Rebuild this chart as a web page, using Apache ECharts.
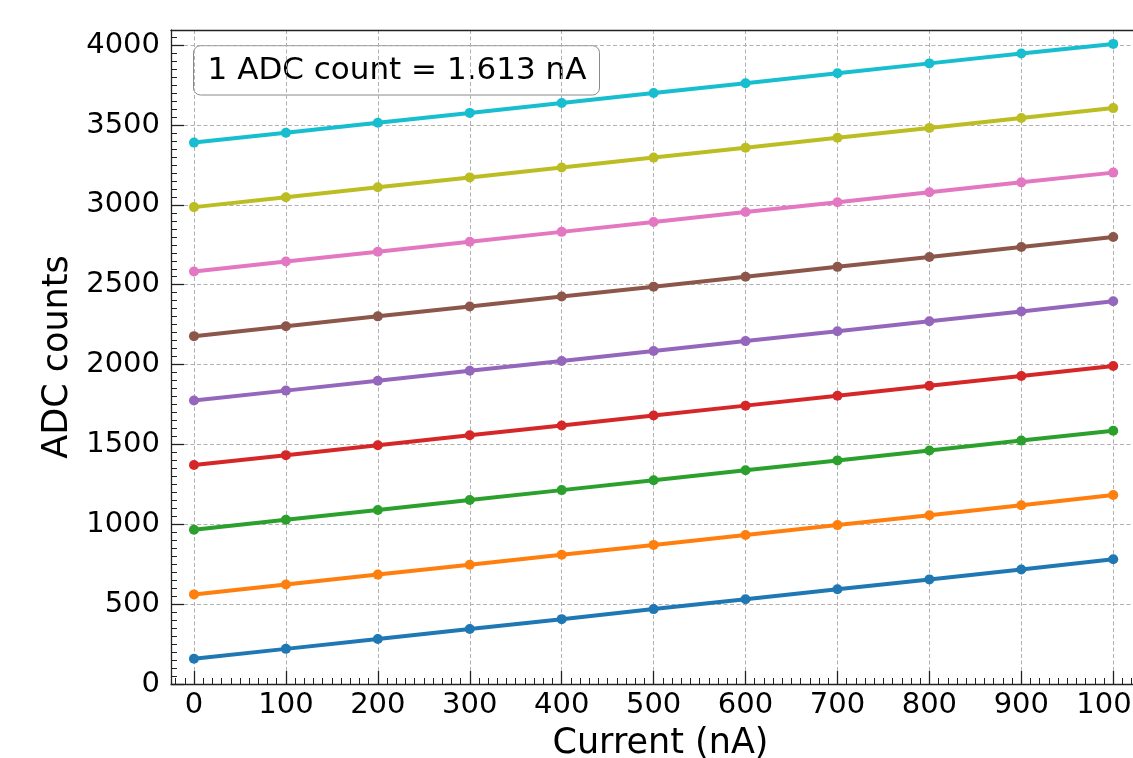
<!DOCTYPE html>
<html>
<head>
<meta charset="utf-8">
<title>ADC counts vs current</title>
<script src="https://cdn.jsdelivr.net/npm/echarts@6/dist/echarts.min.js"></script>
<style>
	html, body { margin: 0; padding: 0; background: #fff; }
	#report_chart { width: 1133px; height: 758px; }
</style>
</head>
<body>
<div id="report_chart"></div>
<script>
// current steps (nA)
var currents = [0, 100, 200, 300, 400, 500, 600, 700, 800, 900, 1000];

// ADC counts per channel
var ch0 = [158, 220, 282, 344, 406, 469, 531, 593, 655, 717, 781];
var ch1 = [561, 623, 685, 747, 809, 871, 933, 995, 1057, 1119, 1183];
var ch2 = [966, 1028, 1090, 1152, 1214, 1276, 1338, 1400, 1462, 1524, 1586];
var ch3 = [1371, 1433, 1495, 1557, 1619, 1681, 1743, 1805, 1867, 1929, 1991];
var ch4 = [1775, 1837, 1899, 1961, 2023, 2085, 2147, 2209, 2271, 2333, 2397];
var ch5 = [2178, 2240, 2302, 2364, 2426, 2488, 2550, 2612, 2674, 2736, 2799];
var ch6 = [2583, 2645, 2707, 2769, 2831, 2893, 2955, 3017, 3079, 3141, 3202];
var ch7 = [2986, 3048, 3110, 3172, 3234, 3296, 3358, 3420, 3482, 3544, 3606];
var ch8 = [3390, 3452, 3514, 3576, 3638, 3700, 3762, 3824, 3886, 3948, 4008];

var channels = [ch0, ch1, ch2, ch3, ch4, ch5, ch6, ch7, ch8];
var colors = ['#1f77b4', '#ff7f0e', '#2ca02c', '#d62728', '#9467bd',
	'#8c564b', '#e377c2', '#bcbd22', '#17becf'];

// tick labels
var xTicks = [0, 100, 200, 300, 400, 500, 600, 700, 800, 900, 1000];
var yTicks = [0, 500, 1000, 1500, 2000, 2500, 3000, 3500, 4000];

var xMinor = [];
for (var i = -20; i <= 1040; i += 10) {
	if (i % 100 !== 0) xMinor.push(i);
}
var yMinor = [];
for (var j = 0; j <= 4050; j += 50) {
	if (j % 500 !== 0) yMinor.push(j);
}

var FONT = 'DejaVu Sans';
var SPINE = '#222';

function initChart() {
	var series = [];
	for (var k = 0; k < channels.length; k++) {
		var pts = [];
		for (var n = 0; n < currents.length; n++) {
			pts.push([currents[n], channels[k][n]]);
		}
		series.push({
			name : 'ch' + k,
			type : 'line',
			data : pts,
			symbol : 'circle',
			symbolSize : 10,
			color : colors[k],
			lineStyle : { width : 4, color : colors[k] },
			itemStyle : { color : colors[k] },
			z : 3
		});
	}

	var option = {
		animation : false,
		backgroundColor : '#fff',
		grid : {
			left : 171,
			top : 30,
			width : 979,
			height : 654,
			outerBoundsMode : 'none',
			containLabel : false
		},
		xAxis : [ {
			type : 'value',
			min : -25,
			max : 1040,
			position : 'bottom',
			name : 'Current (nA)',
			nameLocation : 'middle',
			nameGap : 42,
			nameTextStyle : { fontFamily : FONT, fontSize : 35, color : '#000' },
			axisLine : { show : true, onZero : false, lineStyle : { color : SPINE, width : 1.3 } },
			axisTick : { show : true, inside : true, length : 13, customValues : xTicks,
				lineStyle : { color : SPINE, width : 1.3 } },
			axisLabel : { show : true, customValues : xTicks, margin : 7, fontFamily : FONT,
				fontSize : 29, color : '#000', hideOverlap : false,
				formatter : function(v) { return String(v); } },
			splitLine : { show : true, lineStyle : { color : '#b0b0b0', width : 1, type : [4, 2.5] } }
		}, {
			type : 'value',
			min : -25,
			max : 1040,
			position : 'bottom',
			offset : 0,
			axisLine : { show : false, onZero : false },
			axisTick : { show : true, inside : true, length : 6, customValues : xMinor,
				lineStyle : { color : SPINE, width : 1 } },
			axisLabel : { show : false },
			splitLine : { show : false }
		}, {
			type : 'value',
			min : -25,
			max : 1040,
			position : 'top',
			axisLine : { show : true, onZero : false, lineStyle : { color : SPINE, width : 1.3 } },
			axisTick : { show : false },
			axisLabel : { show : false },
			splitLine : { show : false }
		} ],
		yAxis : [ {
			type : 'value',
			min : 0,
			max : 4095,
			position : 'left',
			name : 'ADC counts',
			nameLocation : 'middle',
			nameRotate : 90,
			nameGap : 90,
			nameTextStyle : { fontFamily : FONT, fontSize : 35, color : '#000' },
			axisLine : { show : true, onZero : false, lineStyle : { color : SPINE, width : 1.3 } },
			axisTick : { show : true, inside : true, length : 13, customValues : yTicks,
				lineStyle : { color : SPINE, width : 1.3 } },
			axisLabel : { show : true, customValues : yTicks, margin : 11, fontFamily : FONT,
				fontSize : 29, color : '#000', hideOverlap : false,
				formatter : function(v) { return String(v); } },
			splitLine : { show : true, lineStyle : { color : '#b0b0b0', width : 1, type : [4, 2.5] } }
		}, {
			type : 'value',
			min : 0,
			max : 4095,
			position : 'left',
			offset : 0,
			axisLine : { show : false, onZero : false },
			axisTick : { show : true, inside : true, length : 6, customValues : yMinor,
				lineStyle : { color : SPINE, width : 1 } },
			axisLabel : { show : false },
			splitLine : { show : false }
		} ],
		graphic : [ {
			type : 'group',
			z : 100,
			children : [ {
				type : 'rect',
				shape : { x : 193.5, y : 45.7, width : 406, height : 49.3, r : 7 },
				style : { fill : 'rgba(255,255,255,0.8)', stroke : '#8a8a8a', lineWidth : 1 }
			}, {
				type : 'text',
				x : 397,
				y : 71,
				style : {
					text : '1 ADC count = 1.613 nA',
					fontFamily : FONT,
					fontSize : 31,
					fill : '#000',
					align : 'center',
					verticalAlign : 'middle'
				}
			} ]
		} ],
		series : series
	};

	var myChart = echarts.init(document.getElementById('report_chart'), null, { renderer : 'canvas' });
	myChart.setOption(option);
	window.myChart = myChart;

	window.addEventListener('resize', function() {
		myChart.resize();
	});
}

initChart();
</script>
</body>
</html>
